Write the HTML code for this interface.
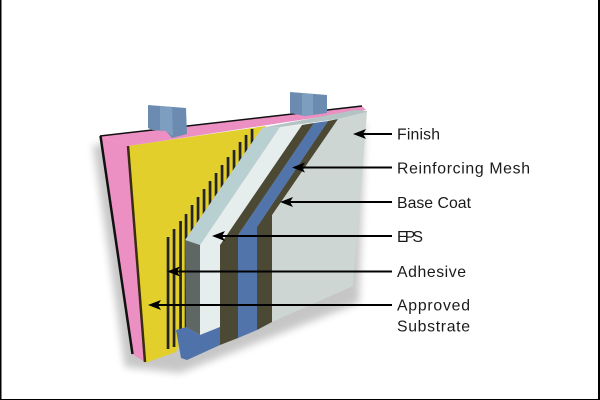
<!DOCTYPE html>
<html><head><meta charset="utf-8"><style>
html,body{margin:0;padding:0;background:#fff;}
svg{display:block;}
</style></head><body>
<svg width="600" height="400" viewBox="0 0 600 400" xmlns="http://www.w3.org/2000/svg">
<defs>
<filter id="bl" x="-20%" y="-20%" width="140%" height="140%"><feGaussianBlur stdDeviation="4"/></filter>
<clipPath id="yc"><polygon points="128,146 266,126 186,240 186,330 176,352 145,363"/></clipPath>
</defs>
<rect width="600" height="400" fill="#fff"/>
<!-- shadow -->
<polygon points="96,140 128,362 183,368 362,298 368,118" fill="#000" opacity="0.22" filter="url(#bl)" transform="translate(-3,5)"/>
<!-- pink side face -->
<polygon points="100,136 128,146 145,362 132,354" fill="#ec8fc2"/>
<line x1="100.5" y1="136" x2="132.5" y2="354" stroke="#111" stroke-width="2.5"/>
<!-- pink top face -->
<polygon points="100,136 362,106 366,110 128,146" fill="#ec8fc2"/>
<line x1="100" y1="136" x2="362" y2="106" stroke="#111" stroke-width="1.5"/>
<!-- yellow face -->
<polygon points="128,146 266,126 186,240 186,330 176,352 145,363" fill="#e3cf2c"/>
<line x1="128" y1="146" x2="145" y2="362" stroke="#3a2c12" stroke-width="2.5"/>
<!-- adhesive stripes -->
<g clip-path="url(#yc)" fill="#242424">
<rect x="166.7" y="237" width="2.7" height="112"/>
<rect x="172.7" y="229" width="2.7" height="118"/>
<rect x="179.2" y="221" width="2.7" height="127"/>
<rect x="184.7" y="214" width="2.7" height="140"/>
<rect x="190.7" y="205" width="2.7" height="140"/>
<rect x="196.7" y="197" width="2.7" height="140"/>
<rect x="202.7" y="189" width="2.7" height="140"/>
<rect x="208.7" y="181" width="2.7" height="140"/>
<rect x="214.7" y="173" width="2.7" height="140"/>
<rect x="220.7" y="165" width="2.7" height="140"/>
<rect x="226.7" y="157" width="2.7" height="140"/>
<rect x="232.7" y="150" width="2.7" height="140"/>
<rect x="238.7" y="142" width="2.7" height="140"/>
<rect x="244.7" y="135" width="2.7" height="140"/>
<rect x="250.7" y="129" width="2.7" height="140"/>
</g>
<!-- studs -->
<polygon points="148,105 186,108 187,134 172,138 166,131 152,130 148,128" fill="#6b8bb1"/>
<polygon points="160,106 172,107 173,136 166,131 160,130" fill="#86a6c6" opacity="0.7"/>
<polygon points="290,92 327,95 327,113 305,116 290,113" fill="#6b8bb1"/>
<polygon points="302,93 313,94 313,115 302,116" fill="#86a6c6" opacity="0.7"/>
<!-- finish -->
<polygon points="338,119 367,112 353,286 272,322 272,215" fill="#cdd6d2"/>
<!-- base coat outer (brown2) -->
<polygon points="328,121 338,119 272,215 272,322 257,330 257,227" fill="#4b4833"/>
<!-- mesh (blue) -->
<polygon points="314,123 328,121 257,227 257,330 238,338 238,235" fill="#5174ab"/>
<!-- base coat inner (brown1) -->
<polygon points="302,125 314,123 238,235 238,338 220,345 220,245" fill="#4b4833"/>
<!-- EPS front -->
<polygon points="280,127 302,125 220,245 220,327 200,335 200,245" fill="#e5eded"/>
<!-- EPS bevel -->
<polygon points="262,128 280,127 200,245 185,240" fill="#b9d0d2"/>
<!-- EPS side -->
<polygon points="185,240 200,245 200,335 186,327" fill="#5f6765"/>
<!-- mesh wrap bottom -->
<polygon points="176,330 186,327 200,335 220,327 220,345 187,360 181,358" fill="#4f72aa"/>
<!-- top band -->
<polygon points="261,128 355,110 367,111 367,112 338,119 280,127" fill="#b4c4c4"/>
<!-- arrows -->
<g stroke="#000" stroke-width="2">
<line x1="362" y1="134" x2="392" y2="134"/>
<line x1="301" y1="167.5" x2="392" y2="167.5"/>
<line x1="289" y1="202" x2="392" y2="202"/>
<line x1="221" y1="236" x2="392" y2="236"/>
<line x1="176" y1="271.5" x2="392" y2="271.5"/>
<line x1="157" y1="305" x2="392" y2="305"/>
</g>
<g fill="#000">
<path d="M353,134 l13,-5 l-3,5 l3,5 z"/>
<path d="M292,167.5 l13,-5 l-3,5 l3,5 z"/>
<path d="M280,202 l13,-5 l-3,5 l3,5 z"/>
<path d="M212,236 l13,-5 l-3,5 l3,5 z"/>
<path d="M167,271.5 l13,-5 l-3,5 l3,5 z"/>
<path d="M148,305 l13,-5 l-3,5 l3,5 z"/>
</g>
<!-- labels -->
<g font-family="Liberation Sans, Arial, sans-serif" font-size="15.8" fill="#1a1a1a">
<text x="397" y="139.5" textLength="43" lengthAdjust="spacing">Finish</text>
<text x="397" y="173.5" textLength="133" lengthAdjust="spacing">Reinforcing Mesh</text>
<text x="397" y="208" textLength="74" lengthAdjust="spacing">Base Coat</text>
<text x="397" y="242" textLength="26" lengthAdjust="spacing">EPS</text>
<text x="397" y="277" textLength="69" lengthAdjust="spacing">Adhesive</text>
<text x="397" y="310.5" textLength="73" lengthAdjust="spacing">Approved</text>
<text x="397" y="331.5" textLength="73" lengthAdjust="spacing">Substrate</text>
</g>
<!-- frame -->
<rect x="0" y="0" width="1.5" height="400" fill="#000"/>
<rect x="598" y="0" width="2" height="400" fill="#000"/>
<rect x="0" y="399" width="600" height="1" fill="#000"/>
</svg>
</body></html>
